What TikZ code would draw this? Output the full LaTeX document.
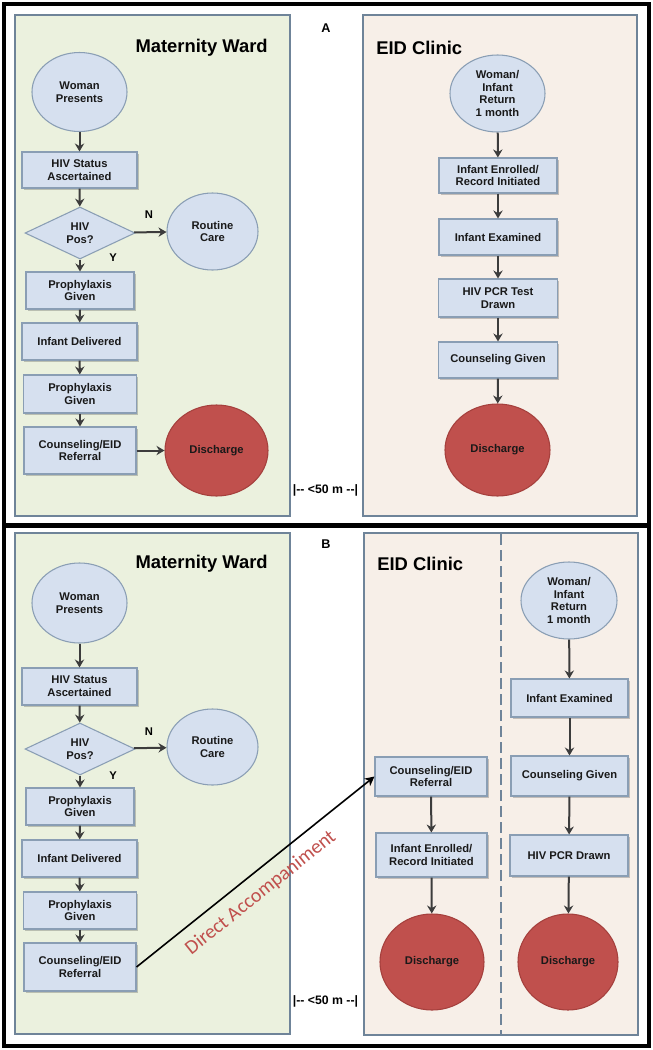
\documentclass[tikz,border=0pt]{standalone}
\usepackage{fontspec}
\setmainfont{Liberation Sans}
\newfontfamily\calib{Carlito}
\usetikzlibrary{shapes.geometric,arrows.meta,shadows}
\definecolor{wardfill}{HTML}{EBF1DE}
\definecolor{clinicfill}{HTML}{F7EFE8}
\definecolor{panelline}{HTML}{6F8499}
\definecolor{nodefill}{HTML}{D6E0EF}
\definecolor{nodeline}{HTML}{8A9EB4}
\definecolor{redfill}{HTML}{C0504D}
\definecolor{redline}{HTML}{A5403D}
\definecolor{arrowcol}{HTML}{3C3C3C}
\definecolor{accomp}{HTML}{C0504D}
\newcommand\flowfont{\fontsize{8.4}{9.6}\selectfont\bfseries}
\begin{document}
\begin{tikzpicture}[x=0.75pt,y=-0.75pt,
  frame/.style={draw=black, line width=2.4pt},
  panel/.style={draw=panelline, line width=1.1pt},
  sz/.style 2 args={minimum width={#1*0.75pt}, minimum height={#2*0.75pt}},
  shade/.style={drop shadow={shadow xshift=1.2pt, shadow yshift=-1.2pt, opacity=0.3, fill=black!70}},
  flowbox/.style={rectangle, fill=nodefill, draw=nodeline, line width=0.8pt, align=center, inner sep=0pt, font=\flowfont, text=black!90, shade},
  roundnode/.style={ellipse, fill=nodefill, draw=nodeline, line width=0.8pt, align=center, inner sep=0pt, font=\flowfont, text=black!90},
  endnode/.style={ellipse, fill=redfill, draw=redline, line width=0.8pt, align=center, inner sep=0pt, font=\flowfont, text=black!90},
  decision/.style={diamond, aspect=2, fill=nodefill, draw=nodeline, line width=0.8pt, align=center, inner sep=0pt, font=\flowfont, text=black!90},
  flow/.style={-{Stealth[length=6pt,width=7pt,inset=2pt]}, line width=1.5pt, draw=arrowcol},
  title/.style={font=\fontsize{13.8}{16}\selectfont\bfseries, inner sep=0pt},
  tag/.style={font=\fontsize{8.4}{10}\selectfont\bfseries, inner sep=0pt},
  panellabel/.style={font=\fontsize{9.5}{11}\selectfont\bfseries, inner sep=0pt},
  dist/.style={font=\fontsize{9.2}{11}\selectfont\bfseries, inner sep=0pt}]
\useasboundingbox (0,0) rectangle (653,1050);
\fill[white] (0,0) rectangle (653,1050);
% outer frames
\draw[frame] (4,4) rectangle (649,525);
\draw[frame] (4,526) rectangle (649,1046);
% ---------------- Panel A ----------------
\draw[panel, fill=wardfill] (15,15) rectangle (290,516);
\draw[panel, fill=clinicfill] (363,15) rectangle (637,516);
\node[title, anchor=east] (aMT) at (268,48) {Maternity Ward};
\node[title, anchor=west] (aET) at (376,48) {EID Clinic};
\node[panellabel] (aLab) at (326,28) {A};
\node[dist] (aDist) at (325.5,490) {|-{}- <50 m -{}-|};
% maternity ward A
\node[roundnode, sz={95}{79}] (aW) at (79.5,92) {Woman\\Presents};
\node[flowbox, sz={115}{36}] (aS) at (79.5,170) {HIV Status\\Ascertained};
\node[decision, sz={110}{52}] (aD) at (80,233) {HIV\\Pos?};
\node[roundnode, sz={91}{77}] (aR) at (212.5,231.5) {Routine\\Care};
\node[flowbox, sz={108}{37}] (aP1) at (80,290.5) {Prophylaxis\\Given};
\node[flowbox, sz={115}{37}] (aI) at (79.5,341.5) {Infant Delivered};
\node[flowbox, sz={113}{38}] (aP2) at (80,394) {Prophylaxis\\Given};
\node[flowbox, sz={112}{47}] (aC) at (80,450.5) {Counseling/EID\\Referral};
\node[endnode, sz={103}{91}] (aX) at (216.5,450.5) {Discharge};
\node[tag] (aN) at (149,215) {N};
\node[tag] (aY) at (113,258) {Y};
\draw[flow] (aW) -- (aS);
\draw[flow] (aS) -- (aD);
\draw[flow] (aD) -- (aR);
\draw[flow] (aD) -- (aP1);
\draw[flow] (aP1) -- (aI);
\draw[flow] (aI) -- (aP2);
\draw[flow] (aP2) -- (aC);
\draw[flow] (aC) -- (aX);
% EID clinic A
\node[roundnode, sz={95}{77}] (aEW) at (497.5,93.5) {Woman/\\Infant\\Return\\1 month};
\node[flowbox, sz={118}{35}] (aEE) at (498,175.5) {Infant Enrolled/\\Record Initiated};
\node[flowbox, sz={118}{36}] (aEX) at (498,237) {Infant Examined};
\node[flowbox, sz={119}{38}] (aEP) at (498,298) {HIV PCR Test\\Drawn};
\node[flowbox, sz={119}{36}] (aEC) at (498,360) {Counseling Given};
\node[endnode, sz={105}{92}] (aED) at (497.5,450) {Discharge};
\draw[flow] (aEW) -- (aEE);
\draw[flow] (aEE) -- (aEX);
\draw[flow] (aEX) -- (aEP);
\draw[flow] (aEP) -- (aEC);
\draw[flow] (aEC) -- (aED);
% ---------------- Panel B ----------------
\draw[panel, fill=wardfill] (15,533) rectangle (290,1034);
\draw[panel, fill=clinicfill] (364,533) rectangle (638,1035);
\draw[panelline, line width=1.1pt, dash pattern=on 8pt off 4pt] (501,534) -- (501,1034);
\node[title, anchor=east] (bMT) at (268,564) {Maternity Ward};
\node[title, anchor=west] (bET) at (377,564) {EID Clinic};
\node[panellabel] (bLab) at (326,544) {B};
\node[dist] (bDist) at (325.5,1001) {|-{}- <50 m -{}-|};
% maternity ward B
\node[roundnode, sz={95}{80}] (bW) at (79.5,603) {Woman\\Presents};
\node[flowbox, sz={115}{37}] (bS) at (79.5,686.5) {HIV Status\\Ascertained};
\node[decision, sz={110}{52}] (bD) at (80,749) {HIV\\Pos?};
\node[roundnode, sz={91}{76}] (bR) at (212.5,747) {Routine\\Care};
\node[flowbox, sz={108}{37}] (bP1) at (80,806.5) {Prophylaxis\\Given};
\node[flowbox, sz={115}{37}] (bI) at (79.5,858.5) {Infant Delivered};
\node[flowbox, sz={113}{37}] (bP2) at (80,910.5) {Prophylaxis\\Given};
\node[flowbox, sz={112}{48}] (bC) at (80,967) {Counseling/EID\\Referral};
\node[tag] (bN) at (149,732) {N};
\node[tag] (bY) at (113,776) {Y};
\draw[flow] (bW) -- (bS);
\draw[flow] (bS) -- (bD);
\draw[flow] (bD) -- (bR);
\draw[flow] (bD) -- (bP1);
\draw[flow] (bP1) -- (bI);
\draw[flow] (bI) -- (bP2);
\draw[flow] (bP2) -- (bC);
% EID clinic B, left column
\node[flowbox, sz={112}{39}] (bEC) at (431,776.5) {Counseling/EID\\Referral};
\node[flowbox, sz={111}{44}] (bEE) at (431.5,855) {Infant Enrolled/\\Record Initiated};
\node[endnode, sz={104}{96}] (bEX) at (432,962) {Discharge};
\draw[flow] (bEC) -- (bEE);
\draw[flow] (bEE) -- (bEX);
% EID clinic B, right column
\node[roundnode, sz={96}{77}] (bRW) at (569,600.5) {Woman/\\Infant\\Return\\1 month};
\node[flowbox, sz={117}{38}] (bRX) at (569.5,698) {Infant Examined};
\node[flowbox, sz={117}{40}] (bRC) at (569.5,776) {Counseling Given};
\node[flowbox, sz={118}{41}] (bRP) at (569,855.5) {HIV PCR Drawn};
\node[endnode, sz={100}{96}] (bRD) at (568,962) {Discharge};
\draw[flow] (bRW) -- (bRX);
\draw[flow] (bRX) -- (bRC);
\draw[flow] (bRC) -- (bRP);
\draw[flow] (bRP) -- (bRD);
% direct accompaniment
\draw[-{Stealth[length=7pt,width=7pt,inset=2pt]}, line width=1.2pt, black] (bC.east) -- node[sloped, below=8pt, pos=0.47, inner sep=0pt, font=\calib\fontsize{15}{17}\selectfont, text=accomp] (bAcc) {Direct Accompaniment} (bEC.west);
\end{tikzpicture}
\end{document}
